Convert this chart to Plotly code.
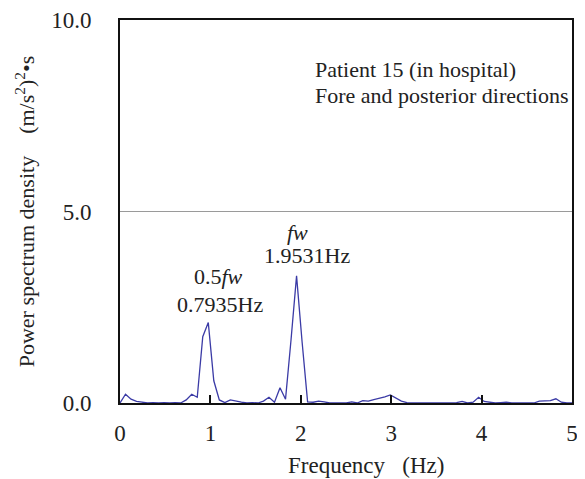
import plotly.graph_objects as go

df = 1000.0 / 16384.0
psd = [0.0, 0.23, 0.10, 0.04, 0.02, 0.0, 0.01, 0.0, 0.01, 0.0,
       0.01, 0.0, 0.08, 0.23, 0.15, 1.73, 2.10, 0.58, 0.08, 0.01,
       0.08, 0.04, 0.02, 0.0, 0.01, 0.0, 0.05, 0.15, 0.02, 0.40,
       0.10, 1.65, 3.32, 1.60, 0.03, 0.02, 0.05, 0.03, 0.0, 0.0,
       0.0, 0.0, 0.03, 0.0, 0.06, 0.05, 0.09, 0.12, 0.16, 0.21,
       0.12, 0.05, 0.01, 0.0, 0.0, 0.0, 0.0, 0.0, 0.0, 0.0,
       0.0, 0.01, 0.04, 0.0, 0.02, 0.15, 0.04, 0.02, 0.0, 0.01,
       0.02, 0.0, 0.0, 0.0, 0.0, 0.0, 0.05, 0.05, 0.06, 0.11,
       0.02, 0.0, 0.0]
freq = [i * df for i in range(len(psd))]

x_ticks = [0, 1, 2, 3, 4, 5]
x_ticklabels = ["0", "1", "2", "3", "4", "5"]
y_ticks = [0, 5, 10]
y_ticklabels = ["0.0", "5.0", "10.0"]

FONT = "Liberation Serif, Times New Roman, serif"
TXT = "#222222"
NB = "\u00a0"

fig = go.Figure()
fig.add_trace(go.Scatter(x=freq, y=psd, mode="lines",
                         line=dict(color="#3b3ba6", width=1.3),
                         showlegend=False, hoverinfo="skip"))

# the page body has an 8px default margin, so the figure is offset by 8px
fig.update_layout(
    width=577, height=471,
    margin=dict(l=112, r=13, t=12, b=76),
    paper_bgcolor="white", plot_bgcolor="white",
    font=dict(family=FONT, size=22, color=TXT),
    xaxis=dict(range=[0, 5], tickvals=x_ticks, ticktext=x_ticklabels,
               ticks="inside", ticklen=8, tickwidth=2, tickcolor="#111111",
               showline=True, linecolor="#111111", linewidth=2, mirror=True,
               showgrid=False, zeroline=False, ticklabelstandoff=8,
               tickfont=dict(size=23), automargin=False),
    yaxis=dict(range=[0, 10], tickvals=y_ticks, ticktext=y_ticklabels,
               ticks="", showline=True, linecolor="#111111", linewidth=2, mirror=True,
               showgrid=True, gridcolor="#9a9a9a", gridwidth=1, zeroline=False,
               ticklabelstandoff=22, tickfont=dict(size=23), automargin=False,
               title=dict(text="Power spectrum density" + NB * 4 +
                          "(m/s<sup>2</sup>)<sup>2</sup>\u2022s",
                          font=dict(size=22), standoff=10)),
)

ann = [
    dict(x=0.427, y=0.872, text="Patient 15 (in hospital)", xanchor="left", size=22),
    dict(x=0.427, y=0.802, text="Fore and posterior directions", xanchor="left", size=22),
    dict(x=0.392, y=0.446, text="<i>fw</i>", xanchor="center", size=22),
    dict(x=0.414, y=0.386, text="1.9531Hz", xanchor="center", size=22),
    dict(x=0.217, y=0.330, text="0.5<i>fw</i>", xanchor="center", size=22),
    dict(x=0.221, y=0.256, text="0.7935Hz", xanchor="center", size=22),
    # x-axis title (placed off-centre as in the original)
    dict(x=0.545, y=-0.162, text="Frequency" + NB * 3 + "(Hz)", xanchor="center", size=23),
]
for a in ann:
    fig.add_annotation(xref="paper", yref="paper", x=a["x"], y=a["y"], text=a["text"],
                       xanchor=a["xanchor"], yanchor="middle", showarrow=False,
                       font=dict(family=FONT, size=a["size"], color=TXT))

fig.write_html("out.html")
